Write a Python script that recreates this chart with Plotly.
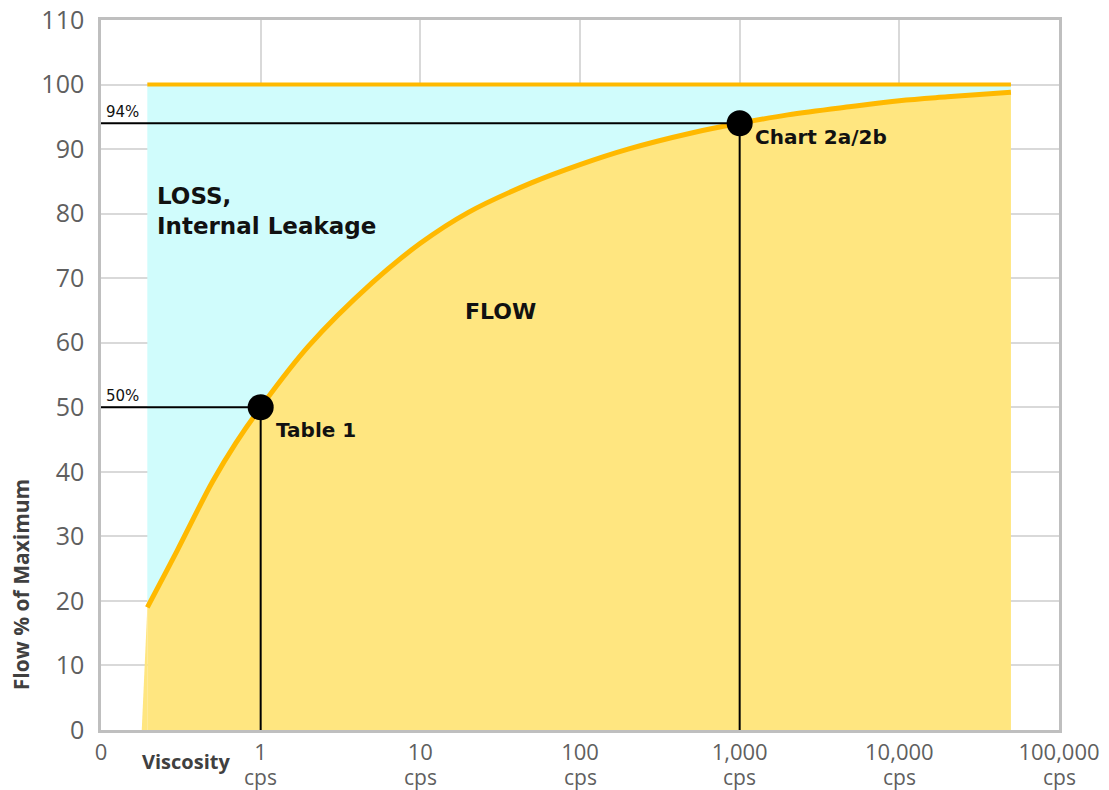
import math
import plotly.graph_objects as go

# Data (viscosity in cps, flow in % of maximum)
viscosity = [0.195, 0.2, 0.3, 0.5, 0.7, 1, 2, 5, 10, 20, 50, 100, 200, 500,
             1000, 2000, 5000, 10000, 20000, 50000]
flow = [19.0, 19.5, 27.8, 38.5, 44.5, 50.0, 59.5, 69.3, 75.4, 80.2, 84.8, 87.6,
        90.0, 92.5, 94.0, 95.3, 96.6, 97.5, 98.1, 98.8]
fill_start_visc = 0.18
max_flow = 100

x_tickvals = [0.1, 1, 10, 100, 1000, 10000, 100000]
x_ticktext = ["0", "1", "10", "100", "1,000", "10,000", "100,000"]
unit_ticks = [1, 10, 100, 1000, 10000, 100000]
y_tickvals = [0, 10, 20, 30, 40, 50, 60, 70, 80, 90, 100, 110]

markers_x = [1, 1000]
markers_y = [50, 94]
marker_labels = ["Table 1", "Chart 2a/2b"]
ref_labels = ["50%", "94%"]

YELLOW = "#FFE680"
CYAN = "#D0FCFC"
ORANGE = "#FFB900"
GRID = "#D9D9D9"
AXIS = "#BFBFBF"
TICK = "#5F5F5F"
LABEL_FONT = "DejaVu Sans"
TICK_FONT = "Open Sans"

fig = go.Figure()

# 100% boundary (invisible, used as the upper edge of the LOSS fill)
fig.add_trace(go.Scatter(
    x=[viscosity[0], viscosity[-1]], y=[max_flow, max_flow],
    mode="lines", line=dict(width=0), hoverinfo="skip", showlegend=False))

# LOSS region (between curve and 100%)
fig.add_trace(go.Scatter(
    x=viscosity, y=flow, fill="tonexty", fillcolor=CYAN,
    mode="lines", line=dict(width=0, shape="spline", smoothing=1.0),
    hoverinfo="skip", showlegend=False))

# FLOW region (below the curve)
fig.add_trace(go.Scatter(
    x=viscosity, y=flow, fill="tozeroy", fillcolor=YELLOW,
    mode="lines", line=dict(width=0, shape="spline", smoothing=1.0),
    hoverinfo="skip", showlegend=False))
fig.add_trace(go.Scatter(
    x=[fill_start_visc, viscosity[0], viscosity[0]], y=[0, flow[0], 0],
    fill="toself", fillcolor=YELLOW, mode="lines", line=dict(width=0),
    hoverinfo="skip", showlegend=False))

# 100% line
fig.add_trace(go.Scatter(
    x=[viscosity[0], viscosity[-1]], y=[max_flow, max_flow],
    mode="lines", line=dict(color=ORANGE, width=4),
    hoverinfo="skip", showlegend=False))

# Flow curve
fig.add_trace(go.Scatter(
    x=viscosity, y=flow, mode="lines",
    line=dict(color=ORANGE, width=5, shape="spline", smoothing=1.0),
    showlegend=False))

# Reference lines
for mx, my in zip(markers_x, markers_y):
    fig.add_trace(go.Scatter(
        x=[0.1, mx, mx], y=[my, my, 0], mode="lines",
        line=dict(color="black", width=2), hoverinfo="skip", showlegend=False))

fig.add_trace(go.Scatter(
    x=markers_x, y=markers_y, mode="markers",
    marker=dict(color="black", size=26), showlegend=False))

annotations = []
label_shifts = [-23, -14]
for mx, my, lab, ref, ys in zip(markers_x, markers_y, marker_labels,
                                ref_labels, label_shifts):
    annotations.append(dict(
        x=math.log10(mx), y=my, xref="x", yref="y", text=lab, showarrow=False,
        xanchor="left", yanchor="middle", xshift=13, yshift=ys,
        font=dict(family=LABEL_FONT, size=20, color="#111111", weight="bold")))
    annotations.append(dict(
        x=-1, y=my, xref="x", yref="y", text=ref, showarrow=False,
        xanchor="left", yanchor="bottom", xshift=3, yshift=0,
        font=dict(family=LABEL_FONT, size=15, color="#111111")))

annotations.append(dict(
    x=math.log10(0.2) + 0.035, y=85.1, xref="x", yref="y",
    text="LOSS,<br>Internal Leakage",
    showarrow=False, xanchor="left", yanchor="top", align="left",
    font=dict(family=LABEL_FONT, size=23, color="#111111", weight="bold")))
annotations.append(dict(
    x=math.log10(100) - 0.5, y=64.8, xref="x", yref="y", text="FLOW",
    showarrow=False, xanchor="center", yanchor="middle",
    font=dict(family=LABEL_FONT, size=22, color="#111111", weight="bold")))
annotations.append(dict(
    x=math.log10(0.1) + 0.53, y=0, xref="x", yref="paper", text="Viscosity",
    showarrow=False, xanchor="center", yanchor="middle", yshift=-31,
    font=dict(family=TICK_FONT, size=20, color="#404040", weight="bold")))
annotations.append(dict(
    x=0, y=0.204, xref="paper", yref="paper", text="Flow % of Maximum",
    showarrow=False, textangle=-90, xanchor="center", yanchor="middle",
    xshift=-80,
    font=dict(family=TICK_FONT, size=21, color="#404040", weight="bold")))
for t in unit_ticks:
    annotations.append(dict(
        x=math.log10(t), y=0, xref="x", yref="paper", text="cps",
        showarrow=False, xanchor="center", yanchor="middle", yshift=-47,
        font=dict(family=TICK_FONT, size=21, color=TICK)))

fig.update_layout(
    width=1101, height=782,
    margin=dict(l=93, r=50, t=12, b=60),
    paper_bgcolor="white", plot_bgcolor="white",
    annotations=annotations,
    xaxis=dict(type="log", range=[-1, 5], tickvals=x_tickvals,
               ticktext=x_ticktext, showgrid=True, gridcolor=GRID,
               gridwidth=1.5, showline=True, linecolor=AXIS, linewidth=2.5,
               mirror=True, ticks="", zeroline=False, automargin=False,
               ticklabelstandoff=1, ticklabeloverflow="allow",
               tickfont=dict(family=TICK_FONT, size=22, color=TICK)),
    yaxis=dict(range=[0, 110], tickvals=y_tickvals, showgrid=True,
               gridcolor=GRID, gridwidth=1.5, showline=True, linecolor=AXIS,
               linewidth=2.5, mirror=True, ticks="", zeroline=False,
               ticklabelstandoff=9, automargin=False,
               ticklabeloverflow="allow",
               tickfont=dict(family=TICK_FONT, size=25, color=TICK)),
)

fig.write_html("out.html")
